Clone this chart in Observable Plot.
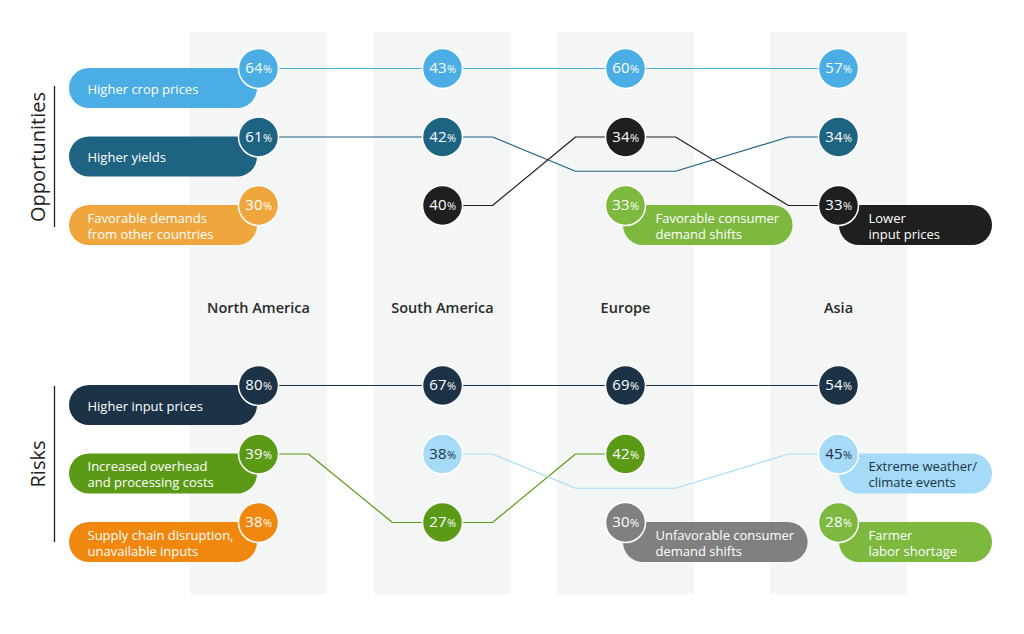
<!DOCTYPE html>
<html>
<head>
<meta charset="utf-8">
<script src="https://cdn.jsdelivr.net/npm/d3@7"></script>
<script src="https://cdn.jsdelivr.net/npm/@observablehq/plot@0.6"></script>
<style>
  html, body { margin: 0; padding: 0; background: #ffffff; }
  #chart { width: 1024px; height: 634px; }
</style>
</head>
<body>
<div id="chart"></div>
<script>
// ---------------- data ----------------
const regions = ["North America", "South America", "Europe", "Asia"];
const groups = ["Opportunities", "Risks"];

const oppSeries = [
  "Higher crop prices",
  "Higher yields",
  "Favorable demands\nfrom other countries",
  "Favorable consumer\ndemand shifts",
  "Lower\ninput prices"
];
const oppValues = [
  [64, 43, 60, 57],
  [61, 42, null, 34],
  [30, null, null, null],
  [null, null, 33, null],
  [null, 40, 34, 33]
];
// rank of each series in each region (2.5 = line passes between ranks, no circle)
const oppRanks = [
  [1, 1, 1, 1],
  [2, 2, 2.5, 2],
  [3, null, null, null],
  [null, null, 3, null],
  [null, 3, 2, 3]
];
const oppColors = ["#4aade3", "#1f6382", "#eea63d", "#7db83f", "#1f1f1f"];
const oppTextColors = ["#ffffff", "#ffffff", "#ffffff", "#ffffff", "#ffffff"];

const riskSeries = [
  "Higher input prices",
  "Increased overhead\nand processing costs",
  "Supply chain disruption,\nunavailable inputs",
  "Extreme weather/\nclimate events",
  "Unfavorable consumer\ndemand shifts",
  "Farmer\nlabor shortage"
];
const riskValues = [
  [80, 67, 69, 54],
  [39, 27, 42, null],
  [38, null, null, null],
  [null, 38, null, 45],
  [null, null, 30, null],
  [null, null, null, 28]
];
const riskRanks = [
  [1, 1, 1, 1],
  [2, 3, 2, null],
  [3, null, null, null],
  [null, 2, 2.5, 2],
  [null, null, 3, null],
  [null, null, null, 3]
];
const riskColors = ["#1c3247", "#5b9a16", "#f0870f", "#a6dbf7", "#808080", "#7db83f"];
const riskTextColors = ["#ffffff", "#ffffff", "#ffffff", "#1c3247", "#ffffff", "#ffffff"];

// ---------------- build tables ----------------
const groupDefs = [
  {group: groups[0], offset: 0, series: oppSeries, values: oppValues, ranks: oppRanks, colors: oppColors, text: oppTextColors},
  {group: groups[1], offset: 10, series: riskSeries, values: riskValues, ranks: riskRanks, colors: riskColors, text: riskTextColors}
];

const points = [];
const labels = [];
for (const g of groupDefs) {
  g.series.forEach((s, si) => {
    const pts = [];
    regions.forEach((r, ri) => {
      const rank = g.ranks[si][ri];
      if (rank == null) return;
      const p = {group: g.group, series: g.group + "|" + s, label: s, xi: ri, yv: rank + g.offset,
                 value: g.values[si][ri], color: g.colors[si], textColor: g.text[si]};
      points.push(p);
      pts.push(p);
    });
    const withValue = pts.filter(p => p.value != null);
    const anchor = withValue[0].xi === 0 ? withValue[0] : withValue[withValue.length - 1];
    labels.push({...anchor, side: anchor.xi === 0 ? "left" : "right"});
  });
}
const circles = points.filter(p => p.value != null);

// text measuring for right-side pills
const ctx = document.createElement("canvas").getContext("2d");
ctx.font = "13px 'Open Sans'";
const textWidth = s => Math.max(...s.split("\n").map(l => ctx.measureText(l).width));

// custom "bump step" curve: flat near each column, diagonal across the gap
const OFF = 50;
function bumpStep(context) {
  let x0, y0, started = false;
  return {
    areaStart() {}, areaEnd() {},
    lineStart() { started = false; },
    lineEnd() {},
    point(x, y) {
      x = +x; y = +y;
      if (!started) { context.moveTo(x, y); started = true; }
      else {
        context.lineTo(x0 + OFF, y0);
        context.lineTo(x - OFF, y);
        context.lineTo(x, y);
      }
      x0 = x; y0 = y;
    }
  };
}

// pills (one rect mark per pill, extended by insets in pixels)
const pillMarks = labels.map(l => {
  let left, right;
  if (l.side === "left") { left = 189; right = -1; }
  else if (l.xi === 3) { left = -1; right = 154; }
  else { left = 2; right = 29 + textWidth(l.label) + 15; }
  return Plot.rect([l], {
    x1: "xi", x2: "xi", y1: "yv", y2: "yv",
    insetLeft: -left, insetRight: -right, insetTop: 0, insetBottom: -40,
    rx: 20, ry: 20, fill: "color"
  });
});

const font = "'Open Sans', 'Noto Sans', sans-serif";

const chart = Plot.plot({
  width: 1024,
  height: 634,
  margin: 0,
  style: {fontFamily: font, background: "#ffffff", overflow: "visible"},
  x: {type: "linear", domain: [0, 1, 2, 3], range: [258, 442, 625, 838], axis: null},
  y: {type: "linear", domain: [1, 3, 11, 13], range: [68, 205, 385, 522], axis: null},
  color: {type: "identity"},
  marks: [
    // column bands
    Plot.ruleX(regions, {x: (d, i) => i, y1: () => 1, y2: () => 13, insetTop: -36, insetBottom: -72,
      stroke: "#f4f6f6", strokeWidth: 137}),
    // group brackets
    Plot.ruleX([groups[0]], {x: () => 0, dx: -204, y1: () => 1, y2: () => 3, insetTop: 18, insetBottom: -22,
      stroke: "#222222", strokeWidth: 1.3}),
    Plot.ruleX([groups[1]], {x: () => 0, dx: -204, y1: () => 11, y2: () => 13, insetTop: 1, insetBottom: -20,
      stroke: "#222222", strokeWidth: 1.3}),
    Plot.text([groups[0]], {x: () => 0, y: () => 2, dx: -220, dy: 20, text: d => d, rotate: -90,
      fontSize: 20, fill: "#222222", textAnchor: "middle", lineAnchor: "middle"}),
    Plot.text([groups[1]], {x: () => 0, y: () => 12, dx: -220, dy: 10, text: d => d, rotate: -90,
      fontSize: 20, fill: "#222222", textAnchor: "middle", lineAnchor: "middle"}),
    // connecting lines
    Plot.line(points, {x: "xi", y: "yv", z: "series", stroke: "color", strokeWidth: 1.2, curve: bumpStep}),
    // pills
    ...pillMarks,
    Plot.text(labels.filter(l => l.side === "left"), {x: "xi", y: "yv", text: "label", dx: -171, dy: 20,
      textAnchor: "start", lineAnchor: "middle", lineHeight: 1.25, fontSize: 13, fill: "textColor"}),
    Plot.text(labels.filter(l => l.side === "right"), {x: "xi", y: "yv", text: "label", dx: 30, dy: 20,
      textAnchor: "start", lineAnchor: "middle", lineHeight: 1.25, fontSize: 13, fill: "textColor"}),
    // circles
    Plot.dot(circles, {x: "xi", y: "yv", r: 20, fill: "color", stroke: "#ffffff", strokeWidth: 1.5}),
    Plot.text(circles, {x: "xi", y: "yv", text: d => String(d.value), dx: 4, textAnchor: "end",
      lineAnchor: "middle", fontSize: 15, fill: "textColor"}),
    Plot.text(circles, {x: "xi", y: "yv", text: () => "%", dx: 4.5, dy: 1.3, textAnchor: "start",
      lineAnchor: "middle", fontSize: 11, fill: "textColor"}),
    // region labels
    Plot.text(regions, {x: (d, i) => i, y: () => 3, dy: 103, text: d => d, fontSize: 14.5,
      fontWeight: 600, fill: "#2a2a2a", textAnchor: "middle", lineAnchor: "middle"})
  ]
});
document.getElementById("chart").appendChild(chart);
</script>
</body>
</html>
